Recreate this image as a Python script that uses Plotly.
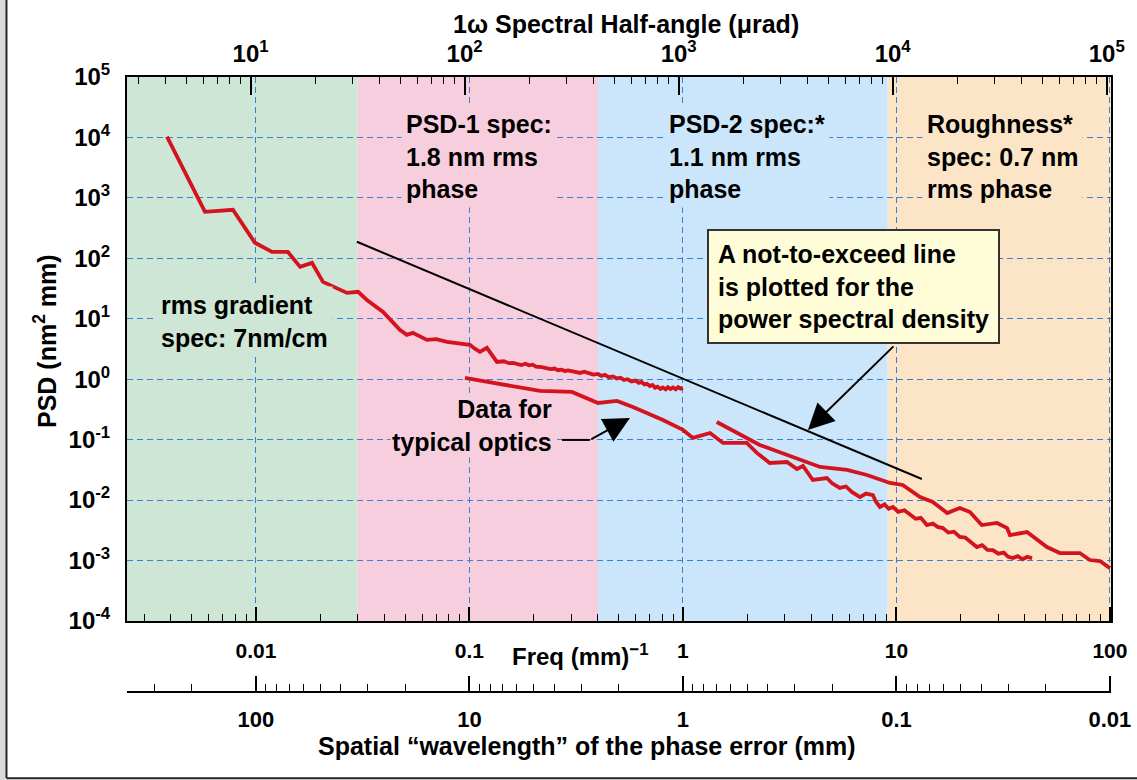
import math
import plotly.graph_objects as go

# ---------------- data ----------------
# Spatial frequency in (mm)^-1, PSD in nm^2 mm
typical_a_freq = [0.00383, 0.00577, 0.0078, 0.00989, 0.0119, 0.0141, 0.0161, 0.0183, 0.0206,
                  0.0267, 0.0301, 0.0331, 0.0394, 0.0472, 0.0509, 0.0543, 0.0632, 0.0700,
                  0.0785, 0.0880, 0.1005, 0.106, 0.112, 0.1207, 0.127, 0.1345, 0.145, 0.153,
                  0.160, 0.168, 0.175, 0.183, 0.190, 0.198, 0.205, 0.218, 0.231, 0.240, 0.250,
                  0.260, 0.270, 0.280, 0.290, 0.310, 0.330, 0.345, 0.360, 0.380, 0.400, 0.415,
                  0.430, 0.450, 0.470, 0.490, 0.510, 0.530, 0.550, 0.575, 0.600, 0.620, 0.640,
                  0.660, 0.678, 0.700, 0.720, 0.740, 0.760, 0.785, 0.805, 0.830, 0.850, 0.875,
                  0.900, 0.925, 0.950, 0.975, 1.0]
typical_a_psd = [10300, 589, 635, 181, 128, 128, 72.3, 84, 40.8,
                 26.8, 27.9, 20.5, 13.0, 6.55, 5.41, 5.84, 4.48, 4.6,
                 4.15, 3.95, 3.70, 3.2, 2.83, 3.30, 2.6, 1.93, 1.98, 1.84,
                 1.86, 1.75, 1.72, 1.80, 1.70, 1.74, 1.62, 1.58, 1.54, 1.47, 1.50,
                 1.41, 1.44, 1.37, 1.40, 1.31, 1.27, 1.33, 1.26, 1.19, 1.22, 1.13,
                 1.18, 1.08, 1.11, 1.03, 1.06, 0.97, 1.00, 0.92, 0.95, 0.87, 0.90,
                 0.82, 0.84, 0.77, 0.80, 0.72, 0.75, 0.69, 0.73, 0.68, 0.74, 0.69,
                 0.73, 0.68, 0.74, 0.70, 0.72]

typical_b_freq = [0.0953, 0.214, 0.302, 0.400, 0.491, 0.583, 0.806, 1.0, 1.114, 1.34, 1.54,
                  1.99, 2.22, 2.55, 3.07, 3.42, 3.65, 4.06, 4.72, 5.0, 5.43, 5.8, 6.2, 6.75,
                  7.2, 7.76, 8.0, 8.37, 8.8, 9.2, 9.64, 10.2, 10.9, 11.6, 12.3, 13.0, 13.9,
                  14.8, 15.6, 16.5, 17.5, 18.6, 19.8, 21.0, 22.3, 23.8, 25.2, 26.7, 28.3,
                  30.0, 31.8, 33.4, 35.1, 37.0, 39.0, 41.0, 43.2]
typical_b_psd = [1.05, 0.64, 0.616, 0.405, 0.438, 0.348, 0.212, 0.145, 0.107, 0.129, 0.0883,
                 0.0883, 0.0603, 0.0411, 0.0427, 0.0327, 0.0367, 0.0215, 0.0232, 0.0190, 0.0159,
                 0.0168, 0.0135, 0.0112, 0.0128, 0.0121, 0.0095, 0.00769, 0.0085, 0.0072,
                 0.00769, 0.0064, 0.0068, 0.00567, 0.0049, 0.0051, 0.00387, 0.0041, 0.0036,
                 0.00345, 0.0029, 0.0030, 0.00245, 0.0024, 0.0020, 0.00167, 0.0018, 0.0015,
                 0.00149, 0.0013, 0.00135, 0.00115, 0.0011, 0.00118, 0.00105, 0.00115, 0.0011]

typical_c_freq = [1.44, 2.29, 4.39, 5.87, 7.28, 9.33, 10.7, 12.9, 14.8, 17.3, 19.8, 22.1,
                  25.1, 29.6, 33.0, 34.0, 40.9, 50.7, 58.3, 72.3, 80.5, 89.8, 100]
typical_c_psd = [0.196, 0.0817, 0.0353, 0.0315, 0.026, 0.0192, 0.0178, 0.0112, 0.0093, 0.0061,
                 0.0074, 0.00635, 0.00387, 0.00418, 0.00345, 0.00264, 0.00296, 0.00167, 0.00133,
                 0.00133, 0.00102, 0.00098, 0.00075]

limit_freq = [0.0297, 13.15]
limit_psd = [188, 0.0223]

band_edges = [0.03, 0.4, 9.1]          # (mm)^-1 boundaries between spec regions
band_colors = ["#CDE6D6", "#F7CEDD", "#CBE6FA", "#FCE5C7"]
band_texts = ["rms gradient<br>spec: 7nm/cm",
              "PSD-1 spec:<br>1.8 nm rms<br>phase",
              "PSD-2 spec:*<br>1.1 nm rms<br>phase",
              "Roughness*<br>spec: 0.7 nm<br>rms phase"]

freq_ticks = [0.01, 0.1, 1, 10, 100]
freq_labels = ["0.01", "0.1", "1", "10", "100"]
wavelength_ticks = [100, 10, 1, 0.1, 0.01]
wavelength_labels = ["100", "10", "1", "0.1", "0.01"]
psd_ticks = [1e-4, 1e-3, 1e-2, 1e-1, 1, 10, 1e2, 1e3, 1e4, 1e5]
angle_ticks = [1e1, 1e2, 1e3, 1e4, 1e5]

# ---------------- style ----------------
RED = "#D3141E"
GRID = "#3C7ED2"
FONT = "Liberation Sans, Arial, Helvetica, sans-serif"
X_RANGE = [-2.604, 2.005]       # log10 of freq
Y_RANGE = [-4, 5]               # log10 of PSD
TOP_RANGE = [0.4225, 5.02]      # log10 of microradians


def tfont(size):
    return dict(family=FONT, size=size, color="black", weight="bold")


def pow_label(v):
    e = round(math.log10(v))
    return "10<sup>%d</sup>" % e


fig = go.Figure()
for fx, fy in [(typical_a_freq, typical_a_psd), (typical_b_freq, typical_b_psd),
               (typical_c_freq, typical_c_psd)]:
    fig.add_trace(go.Scatter(x=fx, y=fy, mode="lines", line=dict(color=RED, width=3.8),
                             showlegend=False, hoverinfo="skip"))
fig.add_trace(go.Scatter(x=limit_freq, y=limit_psd, mode="lines",
                         line=dict(color="black", width=2), showlegend=False, hoverinfo="skip"))
# empty traces that register the two secondary scales (nothing is drawn)
fig.add_trace(go.Scatter(x=angle_ticks, y=[None] * len(angle_ticks), xaxis="x2", yaxis="y",
                         mode="markers", showlegend=False, hoverinfo="skip"))
fig.add_trace(go.Scatter(x=wavelength_ticks, y=[None] * len(wavelength_ticks), xaxis="x3",
                         yaxis="y", mode="markers", showlegend=False, hoverinfo="skip"))

# colored spec regions
edges = [10 ** X_RANGE[0]] + band_edges + [10 ** X_RANGE[1]]
shapes = []
for i, col in enumerate(band_colors):
    shapes.append(dict(type="rect", xref="x", yref="y domain", x0=edges[i], x1=edges[i + 1],
                       y0=0, y1=1, fillcolor=col, line=dict(width=0), layer="below"))

# tail of "Data for typical optics" pointer
shapes.append(dict(type="line", xref="x", yref="y", x0=0.2713, x1=0.3667, y0=0.0989, y1=0.0989,
                   line=dict(color="black", width=2)))
# page frame (left strip and bottom rule)
shapes.append(dict(type="rect", xref="paper", yref="paper", x0=-0.13, x1=-0.1235, y0=-0.095,
                   y1=1.125, fillcolor="#DADADD", line=dict(width=0), layer="below"))
shapes.append(dict(type="line", xref="paper", yref="paper", x0=-0.1225, x1=-0.1225, y0=-0.0905,
                   y1=1.125, line=dict(color="#222", width=2)))
shapes.append(dict(type="line", xref="paper", yref="paper", x0=-0.1225, x1=1.03, y0=-0.0905,
                   y1=-0.0905, line=dict(color="#222", width=2)))

annotations = []
band_label_pos = [(-2.468, 0.949), (-1.321, 3.68), (-0.089, 3.68), (1.1194, 3.68)]
for txt, (ax_, ay_), col in zip(band_texts, band_label_pos, band_colors):
    annotations.append(dict(text=txt, x=ax_, y=ay_, xref="x", yref="y", xanchor="left",
                            yanchor="middle", align="left", showarrow=False, bgcolor=col,
                            borderpad=4, font=tfont(25)))

annotations.append(dict(text="Data for<br>typical optics", x=-0.604, y=-0.77, xref="x", yref="y",
                        xanchor="right", yanchor="middle", align="right", showarrow=False,
                        bgcolor=band_colors[1], borderpad=1, font=tfont(25)))
annotations.append(dict(text="", x=-0.2483, y=-0.641, ax=-0.4356, ay=-1.005, xref="x", yref="y",
                        axref="x", ayref="y", showarrow=True, arrowhead=2, arrowsize=2.6,
                        arrowwidth=2, arrowcolor="black"))

# callout
annotations.append(dict(text="A not-to-exceed line<br>is plotted for the<br>power spectral density",
                        x=0.1124, y=2.488, xref="x", yref="y", xanchor="left", yanchor="top",
                        align="left", showarrow=False, bgcolor="#FEFDD8", bordercolor="#333",
                        borderwidth=2, borderpad=9, font=tfont(25)))
annotations.append(dict(text="", x=0.5855, y=-0.839, ax=0.993, ay=0.568, xref="x", yref="y",
                        axref="x", ayref="y", showarrow=True, arrowhead=2, arrowsize=2.6,
                        arrowwidth=2, arrowcolor="black"))

# axis titles
annotations.append(dict(text="1\u03c9 Spectral Half-angle (\u03bcrad)", x=0.5071, y=1.0824,
                        xref="paper", yref="paper", xanchor="center", yanchor="middle",
                        showarrow=False, font=tfont(25)))
annotations.append(dict(text="Freq (mm)<sup>\u22121</sup>", x=0.4604, y=0.1011, xref="paper",
                        yref="paper", xanchor="center", yanchor="middle", showarrow=False,
                        font=tfont(24)))
annotations.append(dict(text="Spatial \u201cwavelength\u201d of the phase error (mm)", x=0.4675,
                        y=-0.0404, xref="paper", yref="paper", xanchor="center",
                        yanchor="middle", showarrow=False, font=tfont(25)))
annotations.append(dict(text="PSD (nm<sup>2</sup> mm)", x=-0.0833, y=0.5894, xref="paper",
                        yref="paper", xanchor="center", yanchor="middle", showarrow=False,
                        textangle=-90, font=tfont(25)))

minor = dict(ticks="inside", ticklen=7, tickcolor="black", tickwidth=1, dtick="D1",
             showgrid=False)

fig.update_layout(
    width=1137, height=780,
    margin=dict(l=127, r=26, t=77, b=60),
    paper_bgcolor="white", plot_bgcolor="white",
    font=tfont(20),
    showlegend=False,
    shapes=shapes, annotations=annotations,
    xaxis=dict(type="log", range=X_RANGE, anchor="y", side="bottom", showline=True,
               linecolor="black", linewidth=2, ticks="inside", ticklen=14, tickwidth=1.5,
               tickcolor="black", tickmode="array", tickvals=freq_ticks,
               ticktext=freq_labels, tickfont=tfont(21), automargin=False,
               ticklabelstandoff=10, showgrid=True, gridcolor=GRID, griddash="6px,4px",
               gridwidth=1.3, minor=minor, zeroline=False),
    xaxis2=dict(type="log", range=TOP_RANGE, overlaying="x", anchor="y", side="top",
                showline=True, linecolor="black", linewidth=2, ticks="inside", ticklen=18,
                tickwidth=1.5, tickcolor="black", tickmode="array", tickvals=angle_ticks,
                ticktext=[pow_label(v) for v in angle_ticks], automargin=False,
                tickfont=tfont(24), ticklabelstandoff=3, showgrid=False, minor=minor,
                zeroline=False),
    xaxis3=dict(type="log", range=[-X_RANGE[0], -X_RANGE[1]], overlaying="x", anchor="free",
                position=0.0435, side="bottom", showline=True, linecolor="black", linewidth=1.5,
                ticks="inside", ticklen=15, tickwidth=1.5, tickcolor="black", tickmode="array",
                tickvals=wavelength_ticks, ticktext=wavelength_labels, automargin=False,
                tickfont=tfont(22), ticklabelstandoff=8, showgrid=False, minor=minor,
                zeroline=False),
    yaxis=dict(type="log", range=Y_RANGE, domain=[0.154, 1], showline=True, mirror=True,
               linecolor="black", linewidth=2, ticks="", tickmode="array", tickvals=psd_ticks,
               ticktext=[pow_label(v) for v in psd_ticks], automargin=False,
               tickfont=tfont(24), ticklabelstandoff=10, showgrid=True, gridcolor=GRID,
               griddash="6px,4px", gridwidth=1.3, zeroline=False),
)

fig.write_html("out.html")
